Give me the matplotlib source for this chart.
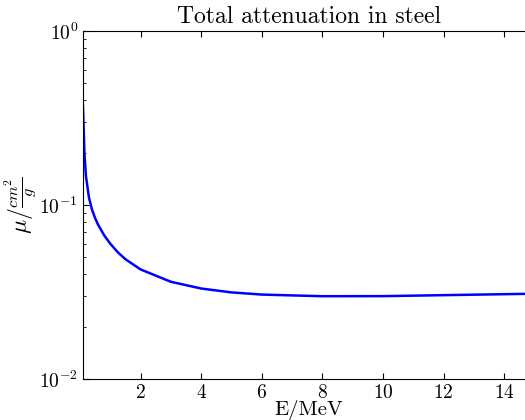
import numpy as np
import matplotlib
matplotlib.use('Agg')
import matplotlib.pyplot as plt

# mass attenuation of iron (total, with coherent scattering)
energy = [0.1, 0.15, 0.2, 0.3, 0.4, 0.5, 0.6, 0.8, 1.0, 1.25, 1.5, 2.0,
          3.0, 4.0, 5.0, 6.0, 8.0, 10.0, 15.0]
mu = [0.3717, 0.1964, 0.1460, 0.1099, 0.0940, 0.08414, 0.07704, 0.06699,
      0.05995, 0.05350, 0.04883, 0.04265, 0.03621, 0.03312, 0.03146,
      0.03057, 0.02991, 0.02994, 0.03092]

plt.rcParams['font.family'] = 'serif'
plt.rcParams['font.serif'] = ['cmr10']
plt.rcParams['mathtext.fontset'] = 'cm'
plt.rcParams['axes.formatter.use_mathtext'] = True

fig = plt.figure(figsize=(5.25, 4.2), dpi=100)
ax = fig.add_axes([0.158, 0.0976, 0.86, 0.8286])

ax.plot(energy, mu, color='blue', lw=1.8)
ax.set_yscale('log')
ax.set_xlim(0.1, 15)
ax.set_ylim(1e-2, 1)
ax.set_xticks([2, 4, 6, 8, 10, 12, 14])

ax.tick_params(which='both', direction='in', top=True, right=True,
               labelsize=14)
ax.tick_params(which='major', length=4)
ax.tick_params(which='minor', length=2)

ax.set_title('Total attenuation in steel', fontsize=17)
ax.set_xlabel('E/MeV', fontsize=15, labelpad=-1)
ax.set_ylabel(r'$\mu/\frac{cm^2}{g}$', fontsize=17, labelpad=0)

fig.savefig('out.png', dpi=100)
